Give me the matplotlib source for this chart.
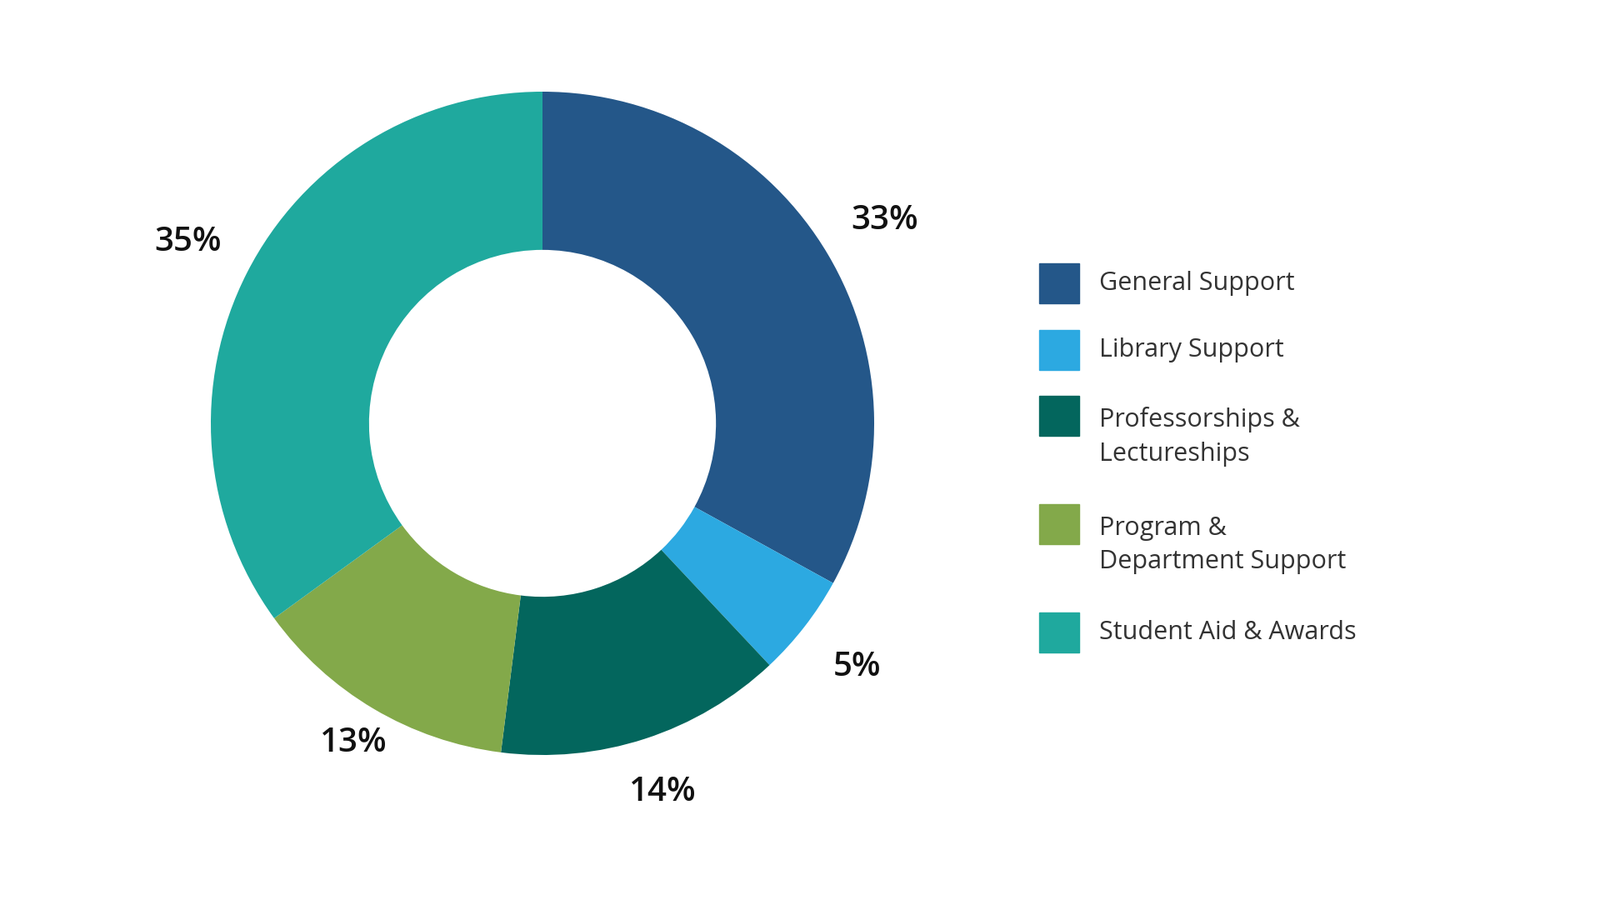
import matplotlib
matplotlib.use("Agg")
import matplotlib.pyplot as plt
import numpy as np
from matplotlib.patches import Rectangle

categories = ["General Support", "Library Support", "Professorships &\nLectureships",
              "Program &\nDepartment Support", "Student Aid & Awards"]
values = [33, 5, 14, 13, 35]
labels = ["33%", "5%", "14%", "13%", "35%"]
colors = ["#245789", "#2CA9E1", "#03665D", "#83A94A", "#1FA99E"]
label_r = [1.2, 1.2, 1.17, 1.12, 1.2]
legend_y = [340, 420, 524, 654, 759]

W, H = 1920, 1080
fig = plt.figure(figsize=(19.2, 10.8), dpi=100)
fig.patch.set_facecolor("white")
R = 398
lim = 1.35
size = 2 * lim * R
cx, cy = 651, H - 508
ax = fig.add_axes([(cx - size / 2) / W, (cy - size / 2) / H, size / W, size / H])
ax.pie(values, colors=colors, startangle=90, counterclock=False,
       wedgeprops=dict(width=1 - 0.523, edgecolor="none"))
ax.set_xlim(-lim, lim); ax.set_ylim(-lim, lim); ax.set_aspect("equal"); ax.axis("off")

cum = 0
for v, lab, r in zip(values, labels, label_r):
    mid = np.deg2rad(90 - (cum + v / 2) * 3.6)
    cum += v
    ax.text(r * np.cos(mid), r * np.sin(mid), lab, ha="center", va="center",
            fontsize=29, fontweight="semibold", family="Open Sans", color="#111111")

for cat, col, y in zip(categories, colors, legend_y):
    n = cat.count("\n") + 1
    top = y - (n - 1) * 25
    fig.patches.append(Rectangle((1247 / W, 1 - (top + 24) / H), 48 / W, 48 / H,
                                 transform=fig.transFigure, color=col))
    fig.text(1319 / W, 1 - y / H, cat, ha="left", va="center", fontsize=22,
             family="Open Sans", color="#333333", linespacing=1.45)

fig.savefig("out.png", dpi=100, facecolor="white")
